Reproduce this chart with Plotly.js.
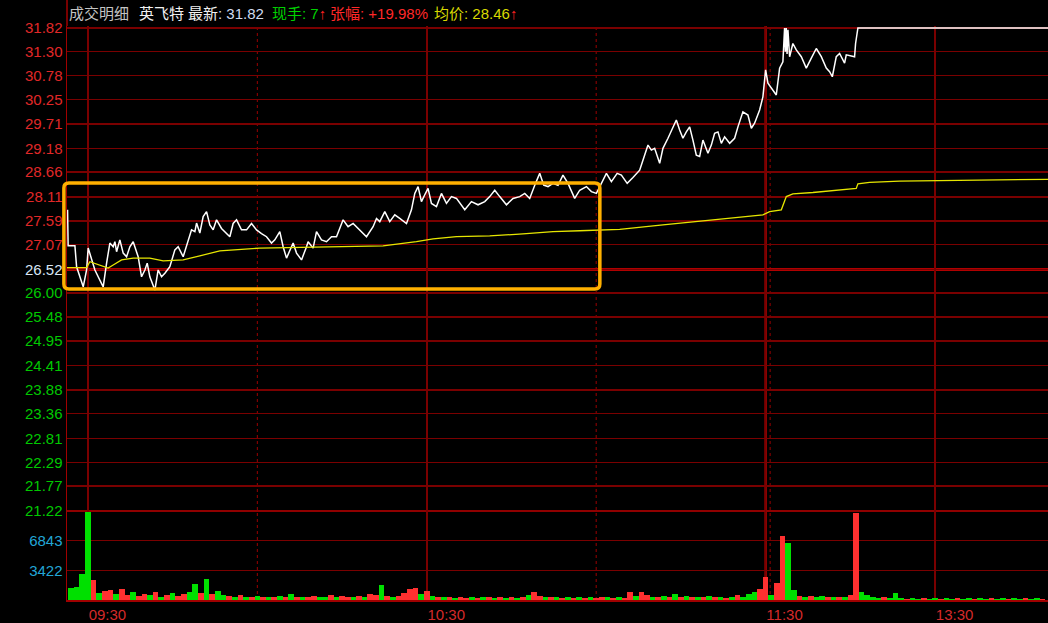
<!DOCTYPE html>
<html><head><meta charset="utf-8">
<script src="https://cdn.plot.ly/plotly-3.0.1.min.js"></script>
<style>html,body{margin:0;padding:0;background:#000;}#chart{width:1048px;height:623px;}</style>
</head><body><div id="chart"></div>
<script>
// ---- data (minutes from 09:30, continuous trading time; 120 = 11:30/13:00) ----
const priceTime = [-3.6,-3.5,-2.3,-2.0,-0.83,-0.23,0.05,0.65,1.24,1.82,2.71,3.31,3.89,4.48,4.78,5.08,5.66,6.25,6.85,7.43,8.02,8.9,9.5,10.09,10.5,10.97,11.86,12.44,13.04,13.63,14.51,15.4,15.98,16.87,17.75,18.35,18.94,19.24,19.82,20.41,21.01,21.59,22.18,22.78,23.66,24.55,25.13,25.72,26.32,27.2,28.09,28.97,29.86,30.74,31.63,32.51,33.1,33.98,34.57,35.17,35.75,36.34,36.94,37.82,38.71,38.99,39.88,40.48,41.36,42.25,43.13,44.02,45.19,46.07,46.96,47.84,48.14,49.33,50.5,51.1,51.68,52.57,53.45,54.34,55.22,56.41,57.29,57.88,58.46,59.06,59.65,60.23,60.83,61.72,62.6,63.49,64.37,65.26,66.73,67.91,69.08,70.27,71.15,72.04,72.92,74.11,75.27,76.46,77.35,78.23,79.12,80.0,80.71,81.47,82.35,83.24,84.12,85.01,86.19,87.08,88.27,89.15,90.04,90.92,91.81,92.69,93.71,94.46,95.49,96.51,97.7,98.28,99.17,99.77,100.35,101.24,101.82,102.71,103.59,104.19,104.78,105.36,105.96,106.55,107.13,107.73,108.32,108.9,109.79,110.39,110.97,111.56,112.16,112.74,113.63,114.51,115.1,115.98,116.87,117.47,118.05,118.94,119.52,120.0,120.41,121.01,121.89,122.48,123.06,123.36,123.5,123.65,123.8,123.95,124.25,124.83,125.43,126.32,127.2,128.09,128.97,129.86,130.74,131.33,131.81,132.51,133.1,133.98,134.28,135.75,135.93,136.34,170];
const price = [27.83,27.04,27.04,26.58,26.14,26.51,26.99,26.77,26.51,26.36,26.14,26.66,27.10,27.02,27.13,26.91,27.17,26.88,26.80,27.02,27.13,26.80,26.36,26.51,26.66,26.36,26.07,26.51,26.36,26.44,26.58,26.95,27.02,26.80,27.17,27.39,27.35,27.54,27.32,27.68,27.79,27.50,27.39,27.61,27.42,27.31,27.24,27.53,27.61,27.39,27.39,27.53,27.39,27.31,27.24,27.10,27.17,27.35,27.02,26.77,26.95,27.10,26.88,26.73,27.02,27.13,26.99,27.35,27.17,27.13,27.24,27.24,27.61,27.46,27.53,27.42,27.39,27.24,27.46,27.64,27.57,27.79,27.57,27.72,27.64,27.53,27.83,28.19,28.34,28.01,28.16,28.30,27.97,27.90,28.19,27.97,28.12,28.08,27.83,28.01,27.94,28.01,28.12,28.26,28.12,27.94,28.08,28.12,28.19,28.08,28.37,28.63,28.37,28.34,28.41,28.37,28.59,28.41,28.08,28.26,28.34,28.23,28.19,28.41,28.63,28.45,28.63,28.59,28.41,28.54,28.70,28.92,29.25,29.14,29.18,28.85,29.18,29.40,29.65,29.80,29.58,29.40,29.54,29.65,29.36,29.03,29.00,29.36,29.07,29.25,29.51,29.54,29.29,29.43,29.29,29.40,29.65,29.98,29.91,29.62,29.73,30.02,30.31,30.90,30.61,30.50,30.35,30.94,31.08,31.82,31.30,31.82,31.25,31.78,31.19,31.48,31.34,31.19,30.94,31.16,31.37,31.19,30.94,30.86,30.75,31.19,31.26,31.05,31.23,31.19,31.48,31.82,31.82];

const avgTime = [-3.7,-0.23,0.35,2.12,3.59,4.48,5.96,8.02,10.97,13.33,16.87,19.82,23.36,30.44,36.34,44.6,52.27,58.17,61.12,65.26,71.15,77.04,82.35,87.08,94.16,101.82,110.67,116.58,119.52,120.71,122.78,123.66,124.83,128.37,134.28,136.05,136.34,138.41,143.72,160.23,170];
const avgPrice = [26.56,26.56,26.69,26.62,26.55,26.62,26.73,26.77,26.77,26.71,26.73,26.82,26.93,26.99,27.00,27.02,27.04,27.13,27.19,27.24,27.26,27.30,27.35,27.37,27.40,27.50,27.61,27.68,27.72,27.79,27.83,28.12,28.18,28.21,28.28,28.30,28.40,28.43,28.46,28.48,28.50];

// per-minute volume from minute -3 (call auction) to 169
const volume = [
 1400,1500,3000,
 10150,
 2300,
 800,1000,1100,700,1300,600,900,500,
 700,600,900,400,600,800,500,700,900,1900,
 800,2400,700,1000,600,500,400,600,400,300,
 500,300,400,300,500,300,700,300,400,300,
 500,400,300,600,300,500,400,300,500,400,
 700,600,1700,500,400,500,800,1300,1400,700,
 1000,500,400,300,300,200,300,200,300,200,
 300,400,200,300,200,300,200,300,600,900,
 500,300,400,300,200,300,200,300,200,300,
 200,400,300,200,300,200,900,500,950,600,
 400,300,500,400,700,400,500,300,400,300,
 500,300,400,200,300,600,300,700,900,1300,
 2600,600,2000,7400,6600,1200,500,400,500,300,
 500,400,300,400,300,600,10000,900,600,300,
 200,300,200,800,200,150,200,150,200,150,
 200,150,200,150,200,150,250,150,200,150,
 200,150,200,150,200,150,200,150,200,150
];
const volSide = ("ggg"+"g"+"r"+"grrgrrgr"+"rgrgrgrrgg"+"rgrggrgrgr"+"grgrgrgrgr"+"rggrgrrgrg"+"rrgrgrrrrg"+"rgrgrgrrgr"+"grgrgrgrgr"+"rgrgrgrgrg"+"rrgrgrrgrr"+"grgrgrgrgr"+"grgrgrgggr"+"rgrrggrgrg"+"grgrgrrggg"+"grgggrggrg"+"grggrggrgg"+"rggrggrggr").split('');
const volTime = volume.map((_, i) => i - 3);

const prevClose = 26.52;
const priceTicks = [31.82,31.30,30.78,30.25,29.71,29.18,28.66,28.11,27.59,27.07,26.52,26.00,25.48,24.95,24.41,23.88,23.36,22.81,22.29,21.77,21.22];
const volTicks = [3422, 6843, 10265];
const volTickText = ['3422', '6843', ''];
const timeTicks = [0, 60, 120, 150];
const timeLabels = ['09:30', '10:30', '11:30', '13:30'];
const halfHourTicks = [30, 90, 120.8];
// highlight box (time in minutes, price)
const boxStart = -4.25, boxEnd = 90.65, boxLow = 26.09, boxHigh = 28.42;

// ---- chart ----
const RED = '#e02828', GREEN = '#00c800', GRID = '#7a0000';
const X_RANGE = [-3.7, 170];
const Y_RANGE = [21.22, 31.864];
const PRICE_DOM = [0.15505, 1];
const VOL_DOM = [0, 0.15505];

const priceTickText = priceTicks.map(v => {
  const c = v > prevClose ? RED : (v < prevClose ? GREEN : '#d8e6f5');
  return '<span style="color:' + c + '">' + v.toFixed(2) + '</span>';
});

const traces = [
  {type:'bar', x: volTime, y: volume, xaxis:'x', yaxis:'y2', width:1,
   marker:{color: volSide.map(s => s === 'r' ? '#ff3030' : '#00e000'), line:{width:0}},
   hoverinfo:'skip'},
  {type:'scatter', mode:'lines', x: priceTime, y: price, xaxis:'x', yaxis:'y',
   line:{color:'#ffffff', width:1.5}, hoverinfo:'skip'},
  {type:'scatter', mode:'lines', x: avgTime, y: avgPrice, xaxis:'x', yaxis:'y',
   line:{color:'#e6e600', width:1.3}, hoverinfo:'skip'}
];

function px(m){ return (m - X_RANGE[0]) / (X_RANGE[1] - X_RANGE[0]); }
function py(p){ return PRICE_DOM[0] + (p - Y_RANGE[0]) / (Y_RANGE[1] - Y_RANGE[0]) * (PRICE_DOM[1] - PRICE_DOM[0]); }
const bx0 = px(boxStart), bx1 = px(boxEnd), by0 = py(boxLow), by1 = py(boxHigh);
const rx = 5/981, ry = 5/574;
const boxPath = 'M ' + (bx0+rx) + ',' + by1 + ' L ' + (bx1-rx) + ',' + by1 + ' Q ' + bx1 + ',' + by1 + ' ' + bx1 + ',' + (by1-ry) +
  ' L ' + bx1 + ',' + (by0+ry) + ' Q ' + bx1 + ',' + by0 + ' ' + (bx1-rx) + ',' + by0 +
  ' L ' + (bx0+rx) + ',' + by0 + ' Q ' + bx0 + ',' + by0 + ' ' + bx0 + ',' + (by0+ry) +
  ' L ' + bx0 + ',' + (by1-ry) + ' Q ' + bx0 + ',' + by1 + ' ' + (bx0+rx) + ',' + by1 + ' Z';

const shapes = [];
halfHourTicks.forEach(t => shapes.push({type:'line', xref:'x', yref:'paper', x0:t, x1:t, y0:0, y1:1,
  line:{color:'#9a0000', width:1, dash:'dot'}, layer:'below'}));
shapes.push({type:'line', xref:'x', yref:'paper', x0:120, x1:120, y0:0, y1:1, line:{color:'#a00000', width:2.5}, layer:'below'});
shapes.push({type:'line', xref:'paper', yref:'y', x0:0, x1:1, y0:prevClose, y1:prevClose, line:{color:'#b00000', width:3}, layer:'below'});
shapes.push({type:'line', xref:'paper', yref:'paper', x0:0, x1:1, y0:VOL_DOM[1], y1:VOL_DOM[1], line:{color:'#900000', width:2}, layer:'below'});
shapes.push({type:'line', xref:'paper', yref:'paper', x0:0, x1:0, y0:1, y1:1+26/574, line:{color:'#a00000', width:1.5}});
shapes.push({type:'path', xref:'paper', yref:'paper', path: boxPath, line:{color:'#ffb000', width:3.5}, layer:'above'});

const HY = 1 + 13/574;
function hx(p){ return (p - 67) / 981; }
const FONT = 'Liberation Sans, Arial, Noto Sans CJK SC, sans-serif';
const hdr = (x, text) => ({xref:'paper', yref:'paper', x: hx(x), y: HY, xanchor:'left', yanchor:'middle',
  text: text, showarrow:false, font:{family:FONT, size:15, color:'#ffffff'}});
const annotations = [
  hdr(67, '<span style="color:#c4c4c4">成交明细</span>'),
  hdr(137, '<span style="color:#f0f0f0">英飞特</span>'),
  hdr(186, '<span style="color:#f0f0f0">最新</span><span style="color:#d0dcf0">: 31.82</span>'),
  hdr(270, '<span style="color:#00d000">现手: 7</span><span style="color:#ff2020">↑</span>'),
  hdr(328, '<span style="color:#ff2828">张幅: +19.98%</span>'),
  hdr(432, '<span style="color:#d8d800">均价: 28.46</span><span style="color:#ff2020">↑</span>')
];

const layout = {
  width:1048, height:623,
  margin:{l:67, r:0, t:26, b:23, pad:0},
  paper_bgcolor:'#000000', plot_bgcolor:'#000000',
  showlegend:false, bargap:0,
  font:{family:FONT, size:15, color:RED},
  xaxis:{range:X_RANGE, anchor:'y2', tickvals:timeTicks, ticktext:timeLabels,
    ticklabelposition:'outside right', ticks:'', tickfont:{color:'#d42a2a', size:15, family:FONT},
    showgrid:true, gridcolor:GRID, gridwidth:1.5, zeroline:false,
    showline:true, linecolor:'#a00000', linewidth:1.5, fixedrange:true},
  yaxis:{domain:PRICE_DOM, range:Y_RANGE, tickvals:priceTicks, ticktext:priceTickText, ticks:'',
    tickfont:{size:15, family:FONT, color:RED},
    showgrid:true, gridcolor:GRID, gridwidth:1.5, zeroline:false,
    showline:true, linecolor:'#a00000', linewidth:1.5, fixedrange:true},
  yaxis2:{domain:VOL_DOM, range:[0, 10265], tickvals:volTicks, ticktext:volTickText, ticks:'',
    tickfont:{size:15, family:FONT, color:'#22a6d6'},
    showgrid:true, gridcolor:GRID, gridwidth:1.5, zeroline:false,
    showline:true, linecolor:'#a00000', linewidth:1.5, fixedrange:true},
  shapes: shapes,
  annotations: annotations
};

Plotly.newPlot('chart', traces, layout, {displayModeBar:false, staticPlot:true});
</script>
</body></html>
